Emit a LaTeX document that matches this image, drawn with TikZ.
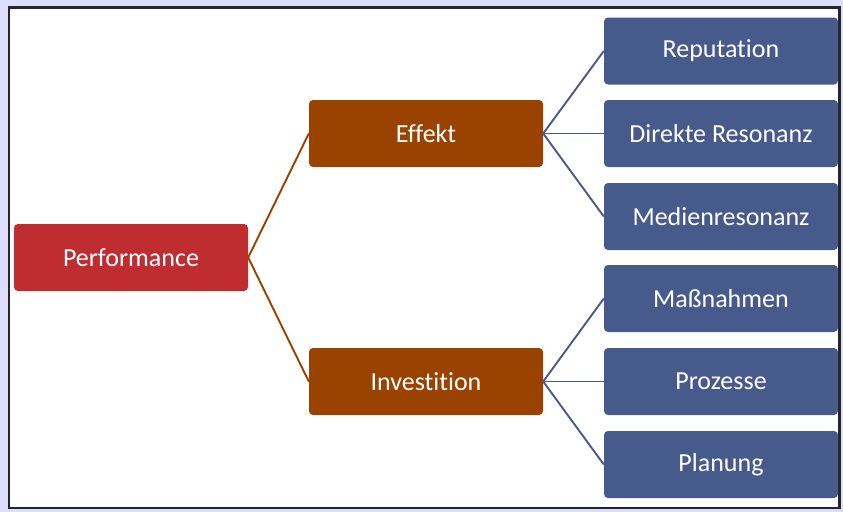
\documentclass[tikz,border=0pt]{standalone}
\usepackage{fontspec}
\setmainfont{Carlito}[RawFeature={-liga}]
\definecolor{bgl}{HTML}{DEDDFD}
\definecolor{perf}{HTML}{C02D30}
\definecolor{brn}{HTML}{9A4200}
\definecolor{blu}{HTML}{475A8C}
\begin{document}
\begin{tikzpicture}[x=1pt,y=-1pt,
  box/.style={rounded corners=4pt,minimum width=234pt,minimum height=67pt,inner sep=0pt,text=white,font=\fontsize{26}{30}\selectfont},
  pbox/.style={box,fill=perf},
  bbox/.style={box,fill=brn},
  lbox/.style={box,fill=blu},
  bline/.style={draw=brn,line width=1.9pt},
  lline/.style={draw=blu,line width=1.9pt}]
\fill[bgl] (0,0) rectangle (843,512);
\draw[fill=white,line width=2.5pt,draw=black!85] (9,7.5) rectangle (839.5,508);
\useasboundingbox (0,0) rectangle (843,512);
\node[pbox] (perf) at (131,257.5) {Performance};
\node[bbox] (eff) at (426,133.5) {Effekt};
\node[bbox] (inv) at (426,381.5) {Investition};
\node[lbox] (r1) at (721,51) {Reputation};
\node[lbox] (r2) at (721,133.5) {Direkte Resonanz};
\node[lbox] (r3) at (721,216.5) {Medienresonanz};
\node[lbox] (r4) at (721,298.5) {Maßnahmen};
\node[lbox] (r5) at (721,381.5) {Prozesse};
\node[lbox] (r6) at (721,464.5) {Planung};
\draw[bline] (eff.west) -- (perf.east) -- (inv.west);
\draw[lline] (r1.west) -- (eff.east) -- (r3.west);
\draw[lline] (eff.east) -- (r2.west);
\draw[lline] (r4.west) -- (inv.east) -- (r6.west);
\draw[lline] (inv.east) -- (r5.west);
\end{tikzpicture}
\end{document}
